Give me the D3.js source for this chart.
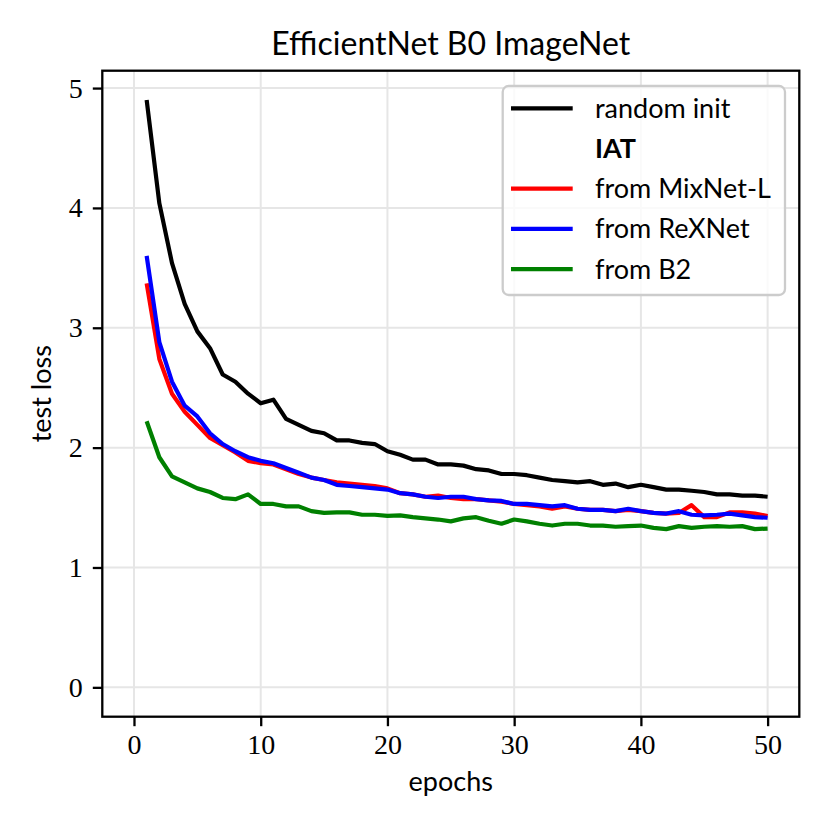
<!DOCTYPE html>
<html>
<head>
<meta charset="utf-8">
<script src="https://cdn.jsdelivr.net/npm/d3@7"></script>
<style>
  body { margin: 0; background: #fff; }
  .tick text { font-family: "Liberation Serif", serif; }
</style>
</head>
<body>
<div id="chart"></div>
<script>
// data
const epochs = d3.range(1, 51);
const randomInit = [4.90, 4.04, 3.54, 3.20, 2.97, 2.83, 2.61, 2.55, 2.45, 2.37,
  2.40, 2.24, 2.19, 2.14, 2.12, 2.06, 2.06, 2.04, 2.03, 1.97,
  1.94, 1.90, 1.90, 1.86, 1.86, 1.85, 1.82, 1.81, 1.78, 1.78,
  1.77, 1.75, 1.73, 1.72, 1.71, 1.72, 1.69, 1.70, 1.67, 1.69,
  1.67, 1.65, 1.65, 1.64, 1.63, 1.61, 1.61, 1.60, 1.60, 1.59];
const fromMixNet = [3.37, 2.74, 2.45, 2.30, 2.19, 2.08, 2.02, 1.96, 1.89, 1.87,
  1.86, 1.82, 1.78, 1.75, 1.73, 1.71, 1.70, 1.69, 1.68, 1.66,
  1.62, 1.61, 1.59, 1.60, 1.58, 1.57, 1.57, 1.56, 1.55, 1.53,
  1.52, 1.51, 1.49, 1.51, 1.49, 1.48, 1.48, 1.47, 1.48, 1.47,
  1.455, 1.45, 1.455, 1.52, 1.42, 1.42, 1.46, 1.46, 1.45, 1.43];
const fromReXNet = [3.60, 2.88, 2.55, 2.35, 2.26, 2.12, 2.03, 1.97, 1.92, 1.89,
  1.87, 1.83, 1.79, 1.75, 1.73, 1.69, 1.68, 1.67, 1.66, 1.65,
  1.62, 1.61, 1.59, 1.58, 1.59, 1.59, 1.57, 1.56, 1.555, 1.53,
  1.53, 1.52, 1.51, 1.52, 1.49, 1.48, 1.48, 1.47, 1.49, 1.47,
  1.455, 1.45, 1.47, 1.44, 1.435, 1.44, 1.45, 1.435, 1.42, 1.415];
const fromB2 = [2.22, 1.92, 1.76, 1.71, 1.66, 1.63, 1.58, 1.57, 1.61, 1.53,
  1.53, 1.51, 1.51, 1.47, 1.455, 1.46, 1.46, 1.44, 1.44, 1.43,
  1.435, 1.42, 1.41, 1.40, 1.385, 1.41, 1.42, 1.39, 1.365, 1.40,
  1.385, 1.365, 1.35, 1.365, 1.365, 1.35, 1.35, 1.34, 1.345, 1.35,
  1.33, 1.32, 1.345, 1.33, 1.34, 1.345, 1.34, 1.345, 1.32, 1.325];
// the "IAT" legend header is an invisible series sitting at (0, 0)
const iatPoint = [[0, 0]];
const xTicks = [0, 10, 20, 30, 40, 50];
const yTicks = [0, 1, 2, 3, 4, 5];

const series = [
  { name: 'random init', color: 'black', values: randomInit },
  { name: 'IAT', color: 'none', values: null, bold: true },
  { name: 'from MixNet-L', color: 'red', values: fromMixNet },
  { name: 'from ReXNet', color: 'blue', values: fromReXNet },
  { name: 'from B2', color: 'green', values: fromB2 }
];

const width = 830, height = 830;
const margin = { top: 70.7, right: 30.7, bottom: 113.3, left: 102.3 };
const innerW = width - margin.left - margin.right;
const innerH = height - margin.top - margin.bottom;

// matplotlib style 5% padding around the data range
function padded(lo, hi) {
  const p = (hi - lo) * 0.05;
  return [lo - p, hi + p];
}
const allX = epochs.concat(iatPoint.map((d) => d[0]));
const allY = randomInit.concat(fromMixNet, fromReXNet, fromB2, iatPoint.map((d) => d[1]));

const x = d3.scaleLinear().domain(padded(d3.min(allX), d3.max(allX))).range([0, innerW]);
const y = d3.scaleLinear().domain(padded(d3.min(allY), d3.max(allY))).range([innerH, 0]);

const svg = d3
  .select('#chart')
  .append('svg')
  .attr('width', width)
  .attr('height', height);

const g = svg.append('g').attr('transform', `translate(${margin.left},${margin.top})`);

// grid
g.append('g')
  .selectAll('line')
  .data(xTicks)
  .join('line')
  .attr('x1', (d) => x(d))
  .attr('x2', (d) => x(d))
  .attr('y1', 0)
  .attr('y2', innerH)
  .attr('stroke', '#e6e6e6')
  .attr('stroke-width', 2);

g.append('g')
  .selectAll('line')
  .data(yTicks)
  .join('line')
  .attr('x1', 0)
  .attr('x2', innerW)
  .attr('y1', (d) => y(d))
  .attr('y2', (d) => y(d))
  .attr('stroke', '#e6e6e6')
  .attr('stroke-width', 2);

// lines
const line = d3
  .line()
  .x((d, i) => x(epochs[i]))
  .y((d) => y(d));

g.append('g')
  .selectAll('path')
  .data(series.filter((s) => s.values))
  .join('path')
  .attr('d', (s) => line(s.values))
  .attr('fill', 'none')
  .attr('stroke', (s) => s.color)
  .attr('stroke-width', 4.2)
  .attr('stroke-linejoin', 'round')
  .attr('stroke-linecap', 'butt');

// axes
const xAxis = g
  .append('g')
  .attr('transform', `translate(0,${innerH})`)
  .call(d3.axisBottom(x).tickValues(xTicks).tickFormat(d3.format('d')).tickSize(9.5).tickPadding(8));
const yAxis = g
  .append('g')
  .call(d3.axisLeft(y).tickValues(yTicks).tickFormat(d3.format('d')).tickSize(9.5).tickPadding(10));

[xAxis, yAxis].forEach((ax) => {
  ax.select('.domain').remove();
  ax.selectAll('.tick line').attr('stroke', '#000').attr('stroke-width', 2.3);
  ax.selectAll('.tick text').attr('font-size', 28).attr('fill', '#000');
});

// frame
g.append('rect')
  .attr('width', innerW)
  .attr('height', innerH)
  .attr('fill', 'none')
  .attr('stroke', '#000')
  .attr('stroke-width', 2.3);

// legend
const legend = g.append('g').attr('transform', `translate(${502.7 - margin.left},${86 - margin.top})`);
legend
  .append('rect')
  .attr('width', 282.3)
  .attr('height', 209)
  .attr('rx', 6)
  .attr('fill', 'white')
  .attr('fill-opacity', 0.8)
  .attr('stroke', '#cccccc')
  .attr('stroke-width', 2.3);

const rows = legend
  .selectAll('.row')
  .data(series)
  .join('g')
  .attr('class', 'row')
  .attr('transform', (d, i) => `translate(0,${22.3 + i * 40.2})`);

rows
  .append('line')
  .attr('x1', 8.3)
  .attr('x2', 70)
  .attr('stroke', (d) => d.color)
  .attr('stroke-width', 4.2);

rows
  .append('text')
  .attr('x', 92.3)
  .attr('dy', '0.35em')
  .attr('font-family', 'Lato, sans-serif')
  .attr('font-size', 27)
  .attr('font-weight', (d) => (d.bold ? 'bold' : 'normal'))
  .text((d) => d.name);

// title and labels
svg
  .append('text')
  .attr('x', margin.left + innerW / 2)
  .attr('y', 55)
  .attr('text-anchor', 'middle')
  .attr('font-family', 'Lato, sans-serif')
  .attr('font-size', 32)
  .text('EfficientNet B0 ImageNet');

svg
  .append('text')
  .attr('x', margin.left + innerW / 2)
  .attr('y', 791)
  .attr('text-anchor', 'middle')
  .attr('font-family', 'Lato, sans-serif')
  .attr('font-size', 27)
  .text('epochs');

svg
  .append('text')
  .attr('transform', `translate(51,${margin.top + innerH / 2}) rotate(-90)`)
  .attr('text-anchor', 'middle')
  .attr('font-family', 'Lato, sans-serif')
  .attr('font-size', 27)
  .text('test loss');
</script>
</body>
</html>
